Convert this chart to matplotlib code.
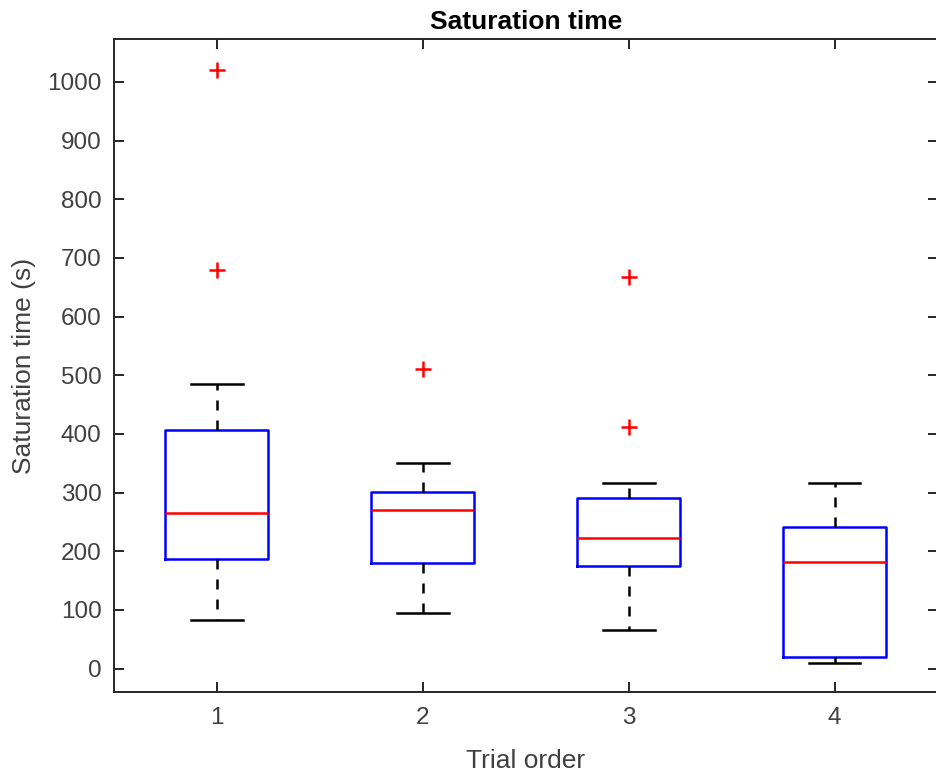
import matplotlib.pyplot as plt

# Summary statistics
positions = [1, 2, 3, 4]
whisker_low = [82, 95, 65, 10]
q1 = [186, 180, 175, 20]
medians = [265, 270, 223, 181]
q3 = [407, 301, 290, 241]
whisker_high = [485, 351, 316, 316]
outliers = [[680, 1020], [510], [412, 668], []]
tick_labels = ['1', '2', '3', '4']

plt.rcParams['font.family'] = ['Liberation Sans', 'DejaVu Sans']

stats = []
for i in range(len(positions)):
    stats.append({
        'whislo': whisker_low[i], 'q1': q1[i], 'med': medians[i],
        'q3': q3[i], 'whishi': whisker_high[i], 'fliers': outliers[i],
    })

fig = plt.figure(figsize=(9.36, 7.71), dpi=100)
ax = fig.add_axes([0.1218, 0.1025, 0.880, 0.8469])

ax.bxp(stats, positions=positions, widths=0.5, showfliers=True,
       boxprops=dict(color='#0000ff', linewidth=1.8),
       medianprops=dict(color='#ff0000', linewidth=1.8),
       whiskerprops=dict(color='black', linewidth=1.8, linestyle=(0, (4, 4))),
       capprops=dict(color='black', linewidth=1.8),
       capwidths=0.25,
       flierprops=dict(marker='+', markeredgecolor='#ff0000', markersize=11,
                       markeredgewidth=1.8, linestyle='none'))

ax.set_xlim(0.5, 4.5)
ax.set_ylim(-40, 1073)
ax.set_yticks(range(0, 1001, 100))
ax.set_xticks(positions)
ax.set_xticklabels(tick_labels)

for s in ax.spines.values():
    s.set_color('#262626')
    s.set_linewidth(1.4)
ax.tick_params(direction='in', length=7, width=1.4, colors='#262626',
               labelsize=17.5, top=True, right=True)
ax.tick_params(axis='x', pad=11)
ax.tick_params(axis='y', pad=9)
for lbl in ax.get_xticklabels() + ax.get_yticklabels():
    lbl.set_color('#404040')

ax.set_title('Saturation time', fontsize=19, fontweight='bold', pad=7)
ax.set_xlabel('Trial order', fontsize=19, color='#404040', labelpad=14)
ax.set_ylabel('Saturation time (s)', fontsize=19, color='#404040', labelpad=8)

fig.savefig('out.png', dpi=100)
